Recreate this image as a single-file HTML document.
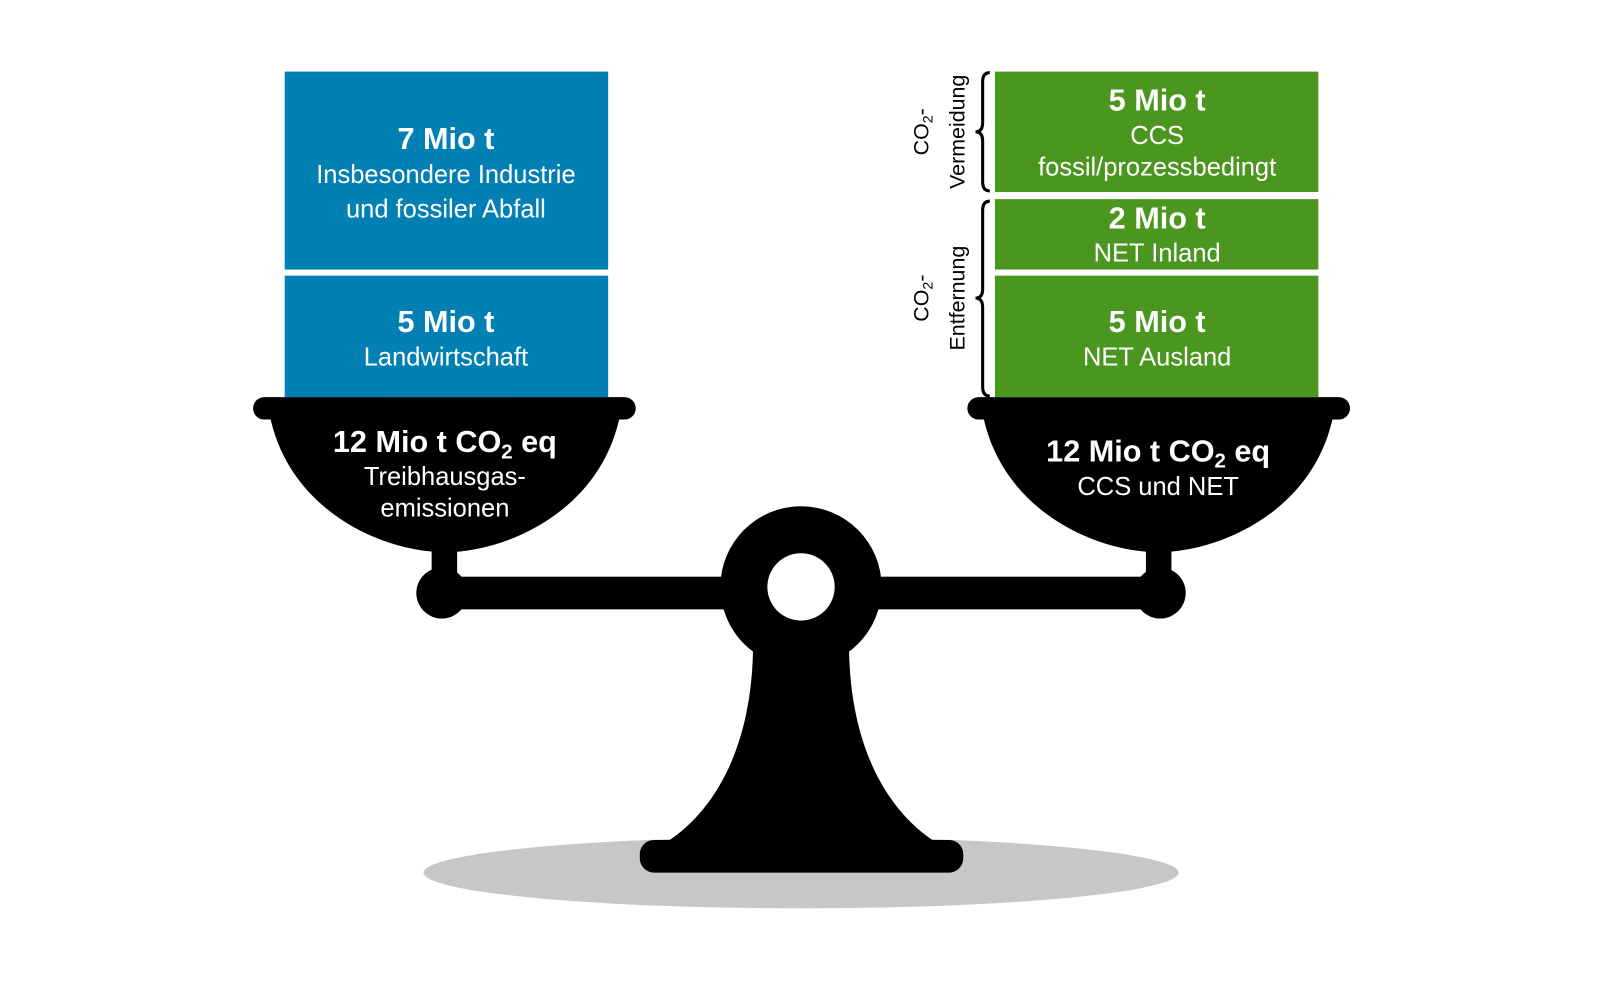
<!DOCTYPE html>
<html><head><meta charset="utf-8"><style>
html,body{margin:0;padding:0;background:#fff;}
svg{display:block;}
text{font-family:"Liberation Sans",sans-serif;fill:#fff;text-anchor:middle;}
.b{font-weight:bold;font-size:30px;}
.n{font-size:25px;}
.v{fill:#000;font-size:21px;}
</style></head><body>
<svg width="1600" height="984" viewBox="0 0 1568 964" xmlns="http://www.w3.org/2000/svg">
<rect width="1568" height="964" fill="#fff"/>
<ellipse cx="785" cy="855" rx="370" ry="35" fill="#c6c8c7"/>
<path d="M738,630 L832,630 C832,720 862,790 918,826 L652,826 C708,790 738,720 738,630 Z" fill="#000"/>
<rect x="627" y="823" width="317" height="32" rx="14" fill="#000"/>
<rect x="433" y="565" width="704" height="32" fill="#000"/>
<circle cx="433" cy="581" r="25" fill="#000"/>
<circle cx="1137" cy="581" r="25" fill="#000"/>
<rect x="423" y="530" width="25" height="40" fill="#000"/>
<rect x="1123" y="530" width="25" height="40" fill="#000"/>
<circle cx="785" cy="575" r="79" fill="#000"/>
<circle cx="785" cy="575" r="33" fill="#fff"/>
<path d="M264,405 C282,500 375,541 436,541 C497,541 590,500 608,405 Z" fill="#000"/>
<rect x="248" y="389" width="375" height="22" rx="11" fill="#000"/>
<path d="M963,405 C981,500 1074,541 1135,541 C1196,541 1289,500 1307,405 Z" fill="#000"/>
<rect x="948" y="389" width="375" height="22" rx="11" fill="#000"/>
<rect x="279" y="70" width="317" height="194" fill="#0280b4"/>
<rect x="279" y="270" width="317" height="119" fill="#0280b4"/>
<text class="b" x="437" y="146">7 Mio t</text>
<text class="n" x="437" y="179">Insbesondere Industrie</text>
<text class="n" x="437" y="213">und fossiler Abfall</text>
<text class="b" x="437" y="325">5 Mio t</text>
<text class="n" x="437" y="358">Landwirtschaft</text>
<rect x="975" y="70" width="317" height="118" fill="#4b961f"/>
<rect x="975" y="195" width="317" height="69" fill="#4b961f"/>
<rect x="975" y="270" width="317" height="119" fill="#4b961f"/>
<text class="b" x="1134" y="108">5 Mio t</text>
<text class="n" x="1134" y="141">CCS</text>
<text class="n" x="1134" y="172">fossil/prozessbedingt</text>
<text class="b" x="1134" y="224">2 Mio t</text>
<text class="n" x="1134" y="256">NET Inland</text>
<text class="b" x="1134" y="325">5 Mio t</text>
<text class="n" x="1134" y="358">NET Ausland</text>
<text class="b" x="436" y="443">12 Mio t CO<tspan font-size="20" dy="6">2</tspan><tspan dy="-6"> eq</tspan></text>
<text class="n" x="436" y="475">Treibhausgas-</text>
<text class="n" x="436" y="506">emissionen</text>
<text class="b" x="1135" y="452">12 Mio t CO<tspan font-size="20" dy="6">2</tspan><tspan dy="-6"> eq</tspan></text>
<text class="n" x="1135" y="485">CCS und NET</text>
<path d="M970,71 Q963,71 963,80 L963,120 Q963,129 956,129 Q963,129 963,138 L963,178 Q963,187 970,187" fill="none" stroke="#000" stroke-width="3"/>
<path d="M970,197 Q963,197 963,206 L963,283 Q963,292 956,292 Q963,292 963,301 L963,379 Q963,388 970,388" fill="none" stroke="#000" stroke-width="3"/>
<text class="v" transform="translate(910,129) rotate(-90)">CO<tspan font-size="14" dy="4">2</tspan><tspan dy="-4">-</tspan></text>
<text class="v" transform="translate(945,129) rotate(-90)">Vermeidung</text>
<text class="v" transform="translate(910,292) rotate(-90)">CO<tspan font-size="14" dy="4">2</tspan><tspan dy="-4">-</tspan></text>
<text class="v" transform="translate(945,292) rotate(-90)">Entfernung</text>
</svg>
</body></html>
